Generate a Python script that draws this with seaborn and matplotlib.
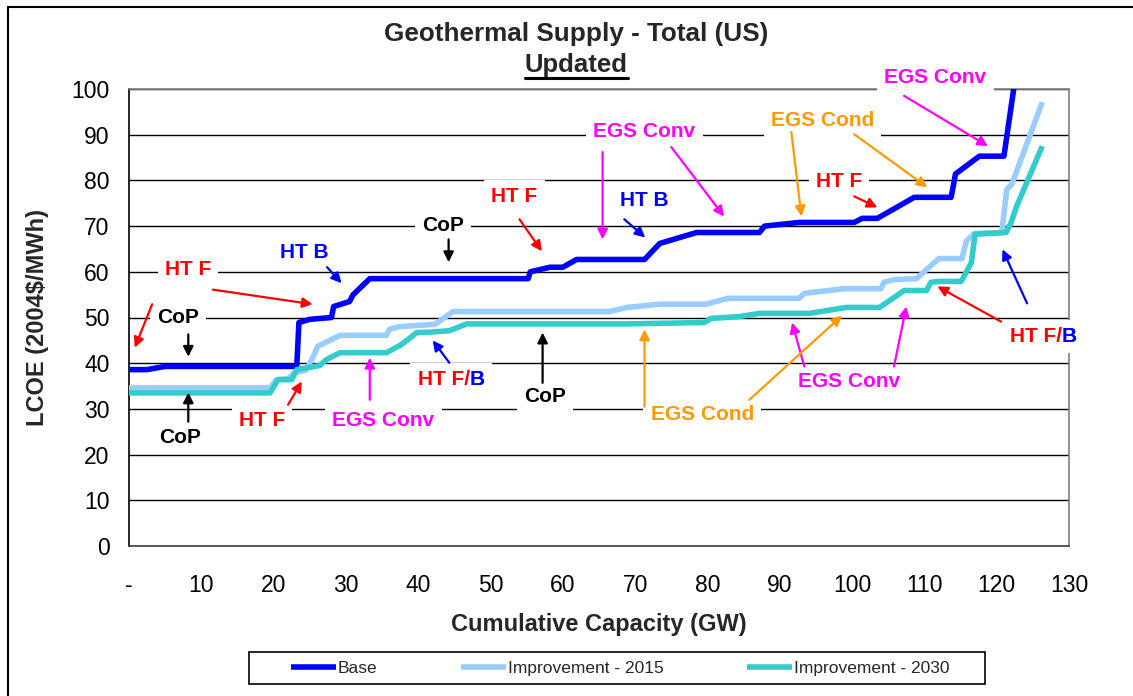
import numpy as np
import pandas as pd
import matplotlib
matplotlib.use("Agg")
import matplotlib.pyplot as plt
import seaborn as sns
from matplotlib.patches import Rectangle
from matplotlib.lines import Line2D

# ---------------- data ----------------
series_names = ["Base", "Improvement - 2015", "Improvement - 2030"]

base_cap = [0, 2.5, 5, 23.2, 23.5, 25, 28, 28.3, 30.5, 31, 33.3, 55.2, 55.5, 58.2, 60,
            61.9, 71.3, 73.4, 78.5, 87.2, 87.9, 92.7, 100.3, 101.4, 103.5, 108.6,
            113.7, 114.3, 117.6, 121, 122.4]
base_lcoe = [38.6, 38.6, 39.3, 39.3, 48.9, 49.6, 50, 52.4, 53.5, 55, 58.5, 58.5, 60, 61, 61,
             62.7, 62.7, 66.2, 68.6, 68.6, 70, 70.8, 70.8, 71.7, 71.7, 76.3,
             76.3, 81.4, 85.3, 85.3, 100.5]

imp15_cap = [0, 19.5, 20.4, 22.0, 22.9, 24.5, 25.4, 26.1, 29.2, 35.6, 36, 37.4, 42.3, 44.8,
             66.5, 68.8, 73.4, 79.8, 82.8, 92.7, 93.4, 98.9, 104, 104.4, 105.8, 108.9,
             112, 115.2, 115.8, 116.9, 120.7, 121.4, 122.1, 126.3]
imp15_lcoe = [34.6, 34.6, 36.4, 36.6, 37.9, 38.5, 41.2, 43.7, 46.1, 46.1, 47.4, 48, 48.5, 51.3,
              51.3, 52.2, 52.9, 52.9, 54.2, 54.2, 55.3, 56.3, 56.3, 57.7, 58.3, 58.5,
              62.9, 62.9, 66.7, 68.4, 68.6, 78, 79.2, 97.1]

imp30_cap = [0, 19.5, 20.6, 22.5, 23.2, 26.4, 27.3, 29.2, 35.6, 37.7, 39.8, 41.6, 44.3, 46.7,
             68.8, 79.6, 80.5, 84.4, 87.2, 94.1, 99.2, 103.8, 107.2, 110.3, 110.9, 112,
             115.1, 116.5, 117, 121.3, 122, 122.7, 126.3]
imp30_lcoe = [33.5, 33.5, 36.4, 36.4, 38.6, 39.5, 40.8, 42.3, 42.3, 44.1, 46.7, 46.8, 47.1, 48.6,
              48.6, 48.9, 49.8, 50.2, 50.9, 50.9, 52.2, 52.2, 55.9, 55.9, 57.7, 57.9,
              57.9, 62, 68.2, 68.6, 70.8, 74.1, 87.5]

x_ticks = list(range(0, 131, 10))
x_tick_labels = ["-"] + [str(v) for v in range(10, 131, 10)]
y_ticks = list(range(0, 101, 10))

# annotation texts: (text, x, y, colour)
RED, BLUE, MAG, ORG, BLK = "#FF0000", "#0000FF", "#FF00FF", "#FF9900", "#000000"
labels = [
    ("HT F", 8.15, 60.5, RED),
    ("CoP", 6.8, 50.0, BLK),
    ("CoP", 7.0, 23.7, BLK),
    ("HT B", 24.3, 64.3, BLUE),
    ("HT F", 18.4, 27.4, RED),
    ("EGS Conv", 35.2, 27.4, MAG),
    ("CoP", 43.4, 70.2, BLK),
    ("CoP", 57.5, 32.7, BLK),
    ("HT F", 53.3, 76.5, RED),
    ("EGS Conv", 71.3, 90.6, MAG),
    ("HT B", 71.3, 75.7, BLUE),
    ("EGS Cond", 95.9, 93.2, ORG),
    ("HT F", 98.2, 79.8, RED),
    ("EGS Conv", 111.5, 102.6, MAG),
    ("EGS Conv", 99.6, 36.0, MAG),
    ("EGS Cond", 79.3, 28.7, ORG),
]
# two-colour labels "HT F/" + "B": junction point
split_labels = [(47.1, 36.4), (129.0, 45.8)]

# arrows: (tail x, tail y, head x, head y, colour)
arrows = [
    (3.2, 52.9, 0.8, 43.4, RED),
    (11.6, 56.1, 25.4, 52.9, RED),
    (8.2, 46.3, 8.2, 41.4, BLK),
    (8.2, 27.2, 8.2, 33.6, BLK),
    (27.4, 61.0, 29.4, 57.5, BLUE),
    (22.0, 30.9, 23.9, 36.0, RED),
    (33.3, 32.0, 33.3, 41.2, MAG),
    (44.3, 40.1, 42.0, 45.0, BLUE),
    (44.2, 67.1, 44.2, 62.1, BLK),
    (57.2, 35.7, 57.2, 46.7, BLK),
    (54.0, 71.5, 57.1, 64.5, RED),
    (65.5, 86.2, 65.5, 67.1, MAG),
    (75.0, 87.3, 82.3, 72.1, MAG),
    (68.5, 71.5, 71.4, 67.5, BLUE),
    (91.6, 90.6, 93.0, 72.1, ORG),
    (100.3, 90.1, 110.4, 78.5, ORG),
    (100.3, 76.5, 103.5, 74.1, RED),
    (107.2, 98.5, 118.8, 87.5, MAG),
    (120.6, 49.1, 111.8, 56.8, RED),
    (124.2, 53.1, 120.8, 64.9, BLUE),
    (93.4, 39.3, 91.7, 48.9, MAG),
    (105.8, 39.3, 107.5, 52.4, MAG),
    (85.8, 32.0, 98.6, 50.4, ORG),
    (71.3, 30.5, 71.3, 47.4, ORG),
]

# ---------------- styling ----------------
sns.set_style("white")
plt.rcParams['font.family'] = ['Liberation Sans', 'DejaVu Sans']

W, H = 1133, 696
fig = plt.figure(figsize=(W / 100, H / 100), dpi=100)
fig.patch.set_facecolor("white")

def fx(px):
    return px / W

def fy(py):
    return 1 - py / H

ax = fig.add_axes([fx(129), fy(546), fx(1069) - fx(129), fy(89) - fy(546)])

colors = ["#0000FF", "#99CCFF", "#33CCCC"]
datasets = [(base_cap, base_lcoe), (imp15_cap, imp15_lcoe), (imp30_cap, imp30_lcoe)]
for name, (xs, ys), c in zip(series_names, datasets, colors):
    df = pd.DataFrame({"cap": xs, "lcoe": ys})
    sns.lineplot(data=df, x="cap", y="lcoe", ax=ax, color=c, lw=4.0, sort=False,
                 estimator=None, label=name, zorder=4,
                 solid_joinstyle="round", solid_capstyle="butt")

ax.set_xlim(0, 130)
ax.set_ylim(0, 100)
ax.set_xticks(x_ticks)
ax.set_xticklabels(x_tick_labels)
ax.set_yticks(y_ticks)
ax.tick_params(axis="both", direction="out", length=6, width=1, color="#404040",
               labelsize=16.5, labelcolor="black", pad=8)
ax.tick_params(axis="x", pad=14)
ax.yaxis.grid(True, color="black", lw=1)
ax.xaxis.grid(False)
ax.set_axisbelow(True)
for s in ["top", "right"]:
    ax.spines[s].set_color("#808080")
    ax.spines[s].set_linewidth(1.2)
ax.spines["left"].set_color("black")
ax.spines["bottom"].set_color("#404040")
ax.spines["left"].set_linewidth(1.2)
ax.spines["bottom"].set_linewidth(1.2)

ax.set_xlabel("Cumulative Capacity (GW)", fontsize=17, fontweight="bold", labelpad=12)
ax.set_ylabel("LCOE (2004$/MWh)", fontsize=17, fontweight="bold", labelpad=16)

handles, labs = ax.get_legend_handles_labels()
ax.get_legend().remove()

# annotations
bbox_kw = dict(boxstyle="square,pad=0.35", facecolor="white", edgecolor="none")
for t, x, y, c in labels:
    ax.text(x, y, t, color=c, fontsize=15, fontweight="bold", ha="center", va="center",
            bbox=bbox_kw, zorder=6, clip_on=False)
for x, y in split_labels:
    ax.text(x, y, "B", color=BLUE, fontsize=15, fontweight="bold", ha="left",
            va="center", bbox=bbox_kw, zorder=5.8, clip_on=False)
    ax.text(x, y, "HT F/", color=RED, fontsize=15, fontweight="bold", ha="right",
            va="center", bbox=bbox_kw, zorder=5.9, clip_on=False)
    ax.text(x, y, "B", color=BLUE, fontsize=15, fontweight="bold", ha="left",
            va="center", zorder=6, clip_on=False)
for x0, y0, x1, y1, c in arrows:
    ax.annotate("", xy=(x1, y1), xytext=(x0, y0),
                arrowprops=dict(arrowstyle="-|>", color=c, lw=1.6, mutation_scale=15,
                                shrinkA=0, shrinkB=0),
                zorder=7, annotation_clip=False)

# title
fig.text(fx(576), fy(34), "Geothermal Supply - Total (US)", ha="center", va="center",
         fontsize=18.8, fontweight="bold")
upd = fig.text(fx(576), fy(65), "Updated", ha="center", va="center",
               fontsize=18.5, fontweight="bold")

# legend
fig.legend(handles, labs, loc="center", bbox_to_anchor=(fx(620), fy(668)), ncol=3,
           frameon=False, fontsize=12.5, handlelength=2.6, handletextpad=0.1,
           columnspacing=4.8)
fig.add_artist(Rectangle((fx(249), fy(684)), fx(985) - fx(249), fy(652) - fy(684),
                         transform=fig.transFigure, fill=False, edgecolor="black", lw=1.2))

# outer chart border (left and top visible)
fig.add_artist(Rectangle((fx(8), -0.05), 1.2, fy(7) + 0.05, transform=fig.transFigure,
                         fill=False, edgecolor="black", lw=1.5))

# underline for "Updated"
fig.canvas.draw()
bb = upd.get_window_extent()
inv = fig.transFigure.inverted()
(x0, y0), (x1, y1) = inv.transform([(bb.x0, bb.y0), (bb.x1, bb.y0)])
fig.add_artist(Line2D([x0, x1], [y0 - 0.002, y0 - 0.002], transform=fig.transFigure,
                      color="black", lw=2.2))

fig.savefig("out.png", dpi=100, facecolor="white")
